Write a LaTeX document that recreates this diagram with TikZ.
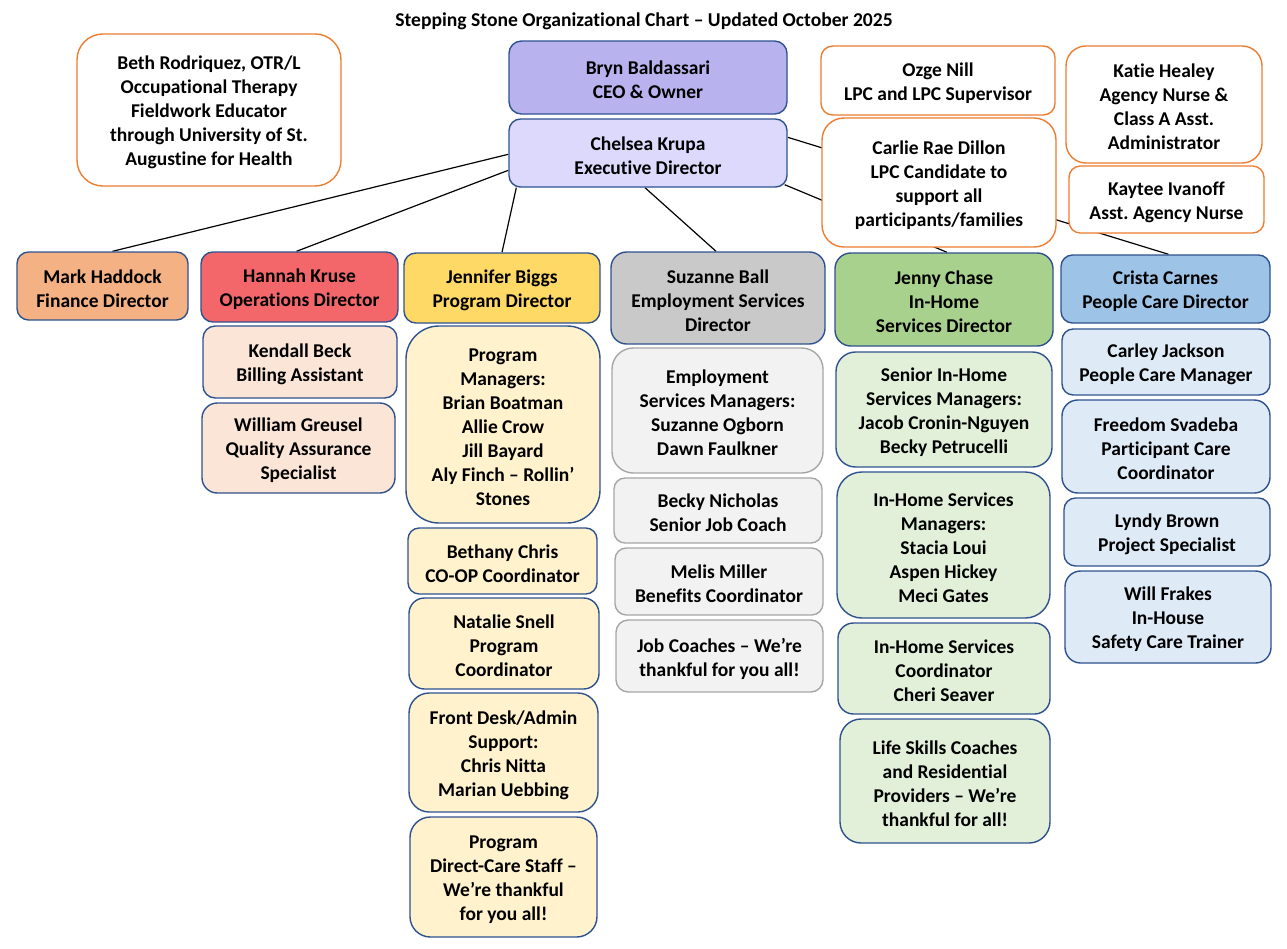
\documentclass[tikz,border=0pt]{standalone}
\usepackage{fontspec}
\setmainfont{Carlito}[Ligatures=NoCommon]
\frenchspacing
\usetikzlibrary{calc}
\pgfdeclarelayer{back}\pgfdeclarelayer{bg}\pgfsetlayers{back,bg,main}
\definecolor{orangeB}{HTML}{ED7D31}
\definecolor{blueB}{HTML}{2F528F}
\definecolor{greyB}{HTML}{A6A6A6}
\definecolor{brynC}{HTML}{B8B3EE}
\definecolor{chelseaC}{HTML}{DCD9FC}
\definecolor{markC}{HTML}{F4B183}
\definecolor{hannahC}{HTML}{F3676A}
\definecolor{jenniferC}{HTML}{FFD966}
\definecolor{suzanneC}{HTML}{C9C9C9}
\definecolor{jennyC}{HTML}{A9D18E}
\definecolor{cristaC}{HTML}{9DC3E6}
\definecolor{hannahS}{HTML}{FBE5D6}
\definecolor{jenniferS}{HTML}{FFF2CC}
\definecolor{suzanneS}{HTML}{F2F2F2}
\definecolor{jennyS}{HTML}{E2F0D9}
\definecolor{cristaS}{HTML}{DEEBF7}
\newcommand\mkbox[7]{%
  \pgfmathsetmacro\bw{#5-#3}%
  \pgfmathsetmacro\bh{#6-#4}%
  \pgfmathsetmacro\br{0.17*min(\bw,\bh)}%
  \node[#1, minimum width=\bw pt, minimum height=\bh pt, rounded corners=\br pt] (#2) at ({(#3+#5)/2},{(#4+#6)/2}) {};
  \node[boxtext] (#2-text) at ($(#2.center)+(0,2.5)$) {#7};}
\tikzset{
  base/.style={draw, line width=1.4pt, inner sep=0pt},
  boxtext/.style={align=center, inner sep=0pt, text=black,
    font=\bfseries\fontsize{19.5}{24}\selectfont},
  orangebox/.style={base, draw=orangeB, fill=white},
  bluebox/.style={base, draw=blueB},
  greybox/.style={base, draw=greyB},
  link/.style={draw=black, line width=1.2pt},
  titlestyle/.style={font=\bfseries\fontsize{19.6}{22}\selectfont, inner sep=0pt}
}
\begin{document}
\begin{tikzpicture}[x=1pt,y=-1pt]
\begin{pgfonlayer}{back}
\useasboundingbox[fill=white] (0,0) rectangle (1287,948);
\end{pgfonlayer}
\node[titlestyle] (title) at (644,21) {Stepping Stone Organizational Chart – Updated October 2025};
% top
\mkbox{orangebox}{beth}{77}{34}{341}{186}{Beth Rodriquez, OTR/L\\Occupational Therapy\\Fieldwork Educator\\through University of St.\\Augustine for Health}
\mkbox{bluebox,fill=brynC}{bryn}{509}{41}{787}{114}{Bryn Baldassari\\CEO \& Owner}
\mkbox{bluebox,fill=chelseaC}{chelsea}{509}{119}{787}{187}{Chelsea Krupa\\Executive Director}
\mkbox{orangebox}{ozge}{821}{46}{1055}{115}{Ozge Nill\\LPC and LPC Supervisor}
\mkbox{orangebox}{carlie}{822}{118}{1056}{247}{Carlie Rae Dillon\\LPC Candidate to\\support all\\participants/families}
\mkbox{orangebox}{katie}{1066}{46}{1262}{163}{Katie Healey\\Agency Nurse \&\\Class A Asst.\\Administrator}
\mkbox{orangebox}{kaytee}{1069}{166}{1264}{233}{Kaytee Ivanoff\\Asst. Agency Nurse}
% directors
\mkbox{bluebox,fill=markC}{mark}{17}{252}{188}{320}{Mark Haddock\\Finance Director}
\mkbox{bluebox,fill=hannahC}{hannah}{201}{252}{398}{322}{Hannah Kruse\\Operations Director}
\mkbox{bluebox,fill=jenniferC}{jennifer}{404}{253}{600}{323}{Jennifer Biggs\\Program Director}
\mkbox{bluebox,fill=suzanneC}{suzanne}{611}{252}{825}{344}{Suzanne Ball\\Employment Services\\Director}
\mkbox{bluebox,fill=jennyC}{jenny}{835}{253}{1053}{346}{Jenny Chase\\In-Home\\Services Director}
\mkbox{bluebox,fill=cristaC}{crista}{1061}{255}{1270}{323}{Crista Carnes\\People Care Director}
% Hannah subs
\mkbox{bluebox,fill=hannahS}{kendall}{203}{326}{397}{398}{Kendall Beck\\Billing Assistant}
\mkbox{bluebox,fill=hannahS}{william}{202}{403}{395}{493}{William Greusel\\Quality Assurance\\Specialist}
% Jennifer subs
\mkbox{bluebox,fill=jenniferS}{progman}{406}{326}{600}{523}{Program\\Managers:\\Brian Boatman\\Allie Crow\\Jill Bayard\\Aly Finch – Rollin’\\Stones}
\mkbox{bluebox,fill=jenniferS}{bethany}{408}{528}{597}{594}{Bethany Chris\\CO-OP Coordinator}
\mkbox{bluebox,fill=jenniferS}{natalie}{409}{598}{599}{689}{Natalie Snell\\Program\\Coordinator}
\mkbox{bluebox,fill=jenniferS}{frontdesk}{409}{693}{598}{812}{Front Desk/Admin\\Support:\\Chris Nitta\\Marian Uebbing}
\mkbox{bluebox,fill=jenniferS}{directcare}{410}{817}{597}{937}{Program\\Direct-Care Staff –\\We’re thankful\\for you all!}
% Suzanne subs
\mkbox{greybox,fill=suzanneS}{empman}{612}{348}{823}{473}{Employment\\Services Managers:\\Suzanne Ogborn\\Dawn Faulkner}
\mkbox{greybox,fill=suzanneS}{beckyn}{614}{478}{822}{543}{Becky Nicholas\\Senior Job Coach}
\mkbox{greybox,fill=suzanneS}{melis}{615}{548}{823}{615}{Melis Miller\\Benefits Coordinator}
\mkbox{greybox,fill=suzanneS}{jobcoach}{616}{620}{823}{692}{Job Coaches – We’re\\thankful for you all!}
% Jenny subs
\mkbox{bluebox,fill=jennyS}{senior}{836}{352}{1052}{467}{Senior In-Home\\Services Managers:\\Jacob Cronin-Nguyen\\Becky Petrucelli}
\mkbox{bluebox,fill=jennyS}{ihman}{837}{472}{1050}{618}{In-Home Services\\Managers:\\Stacia Loui\\Aspen Hickey\\Meci Gates}
\mkbox{bluebox,fill=jennyS}{ihcoord}{838}{623}{1050}{714}{In-Home Services\\Coordinator\\Cheri Seaver}
\mkbox{bluebox,fill=jennyS}{lifeskills}{840}{719}{1050}{843}{Life Skills Coaches\\and Residential\\Providers – We’re\\thankful for all!}
% Crista subs
\mkbox{bluebox,fill=cristaS}{carley}{1062}{329}{1270}{395}{Carley Jackson\\People Care Manager}
\mkbox{bluebox,fill=cristaS}{freedom}{1062}{400}{1270}{493}{Freedom Svadeba\\Participant Care\\Coordinator}
\mkbox{bluebox,fill=cristaS}{lyndy}{1064}{498}{1270}{566}{Lyndy Brown\\Project Specialist}
\mkbox{bluebox,fill=cristaS}{will}{1065}{571}{1271}{663}{Will Frakes\\In-House\\Safety Care Trainer}
% connectors
\begin{pgfonlayer}{bg}
\draw[link] ($(chelsea.north west)+(0,36)$) -- ($(mark.north)+(10,0)$);
\draw[link] ($(chelsea.north west)+(0,52)$) -- ($(hannah.north)+(-3,0)$);
\draw[link] ($(chelsea.south west)+(8,0)$) -- (jennifer.north);
\draw[link] ($(chelsea.south)+(-3,0)$) -- ($(suzanne.north)+(-2,0)$);
\draw[link] ($(chelsea.south east)+(-3,-3)$) -- ($(jenny.north)+(3,0)$);
\draw[link] ($(chelsea.north east)+(0,19)$) -- ($(crista.north)+(3,0)$);
\end{pgfonlayer}
\end{tikzpicture}
\end{document}
